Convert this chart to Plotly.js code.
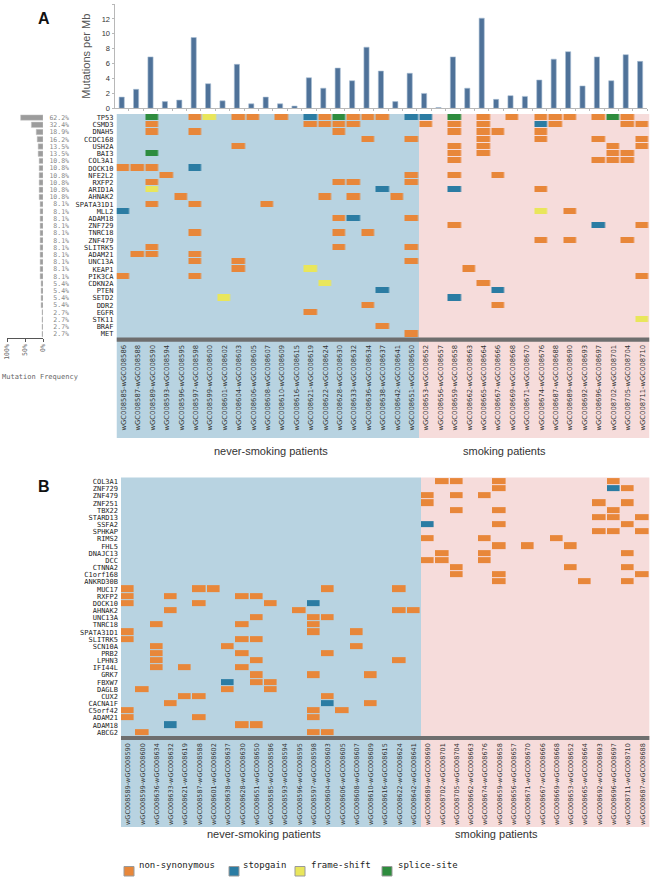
<!DOCTYPE html>
<html><head><meta charset="utf-8">
<script src="https://cdn.plot.ly/plotly-3.0.1.min.js"></script>
<style>html,body{margin:0;padding:0;background:#fff}#chart{width:650px;height:877px}</style>
</head><body><div id="chart"></div>
<script>
// ---------- DATA ----------
const samplesA = ["wGC008585-wGC008586","wGC008587-wGC008588","wGC008589-wGC008590","wGC008593-wGC008594","wGC008596-wGC008595","wGC008597-wGC008598","wGC008599-wGC008600","wGC008601-wGC008602","wGC008604-wGC008603","wGC008606-wGC008605","wGC008608-wGC008607","wGC008610-wGC008609","wGC008616-wGC008615","wGC008621-wGC008619","wGC008622-wGC008624","wGC008628-wGC008630","wGC008633-wGC008632","wGC008636-wGC008634","wGC008638-wGC008637","wGC008642-wGC008641","wGC008651-wGC008650","wGC008653-wGC008652","wGC008656-wGC008657","wGC008659-wGC008658","wGC008662-wGC008663","wGC008665-wGC008664","wGC008667-wGC008666","wGC008669-wGC008668","wGC008671-wGC008670","wGC008674-wGC008676","wGC008687-wGC008688","wGC008689-wGC008690","wGC008692-wGC008693","wGC008696-wGC008697","wGC008702-wGC008701","wGC008705-wGC008704","wGC008711-wGC008710"];
const mutationsPerMb = [1.5,2.55,6.9,0.9,1.1,9.5,3.3,1.0,5.9,0.6,1.5,0.6,0.3,4.1,2.7,5.4,3.7,8.2,5.0,0.9,4.7,2.0,0.1,6.9,2.7,12.1,1.2,1.7,1.6,3.8,6.6,7.6,3.0,6.9,3.7,7.2,6.3];
const genesA = ["TP53","CSMD3","DNAH5","CCDC168","USH2A","BAI3","COL3A1","DOCK10","NFE2L2","RXFP2","ARID1A","AHNAK2","SPATA31D1","MLL2","ADAM18","ZNF729","TNRC18","ZNF479","SLITRK5","ADAM21","UNC13A","KEAP1","PIK3CA","CDKN2A","PTEN","SETD2","DDR2","EGFR","STK11","BRAF","MET"];
const freqA = [62.2,32.4,18.9,16.2,13.5,13.5,10.8,10.8,10.8,10.8,10.8,10.8,8.1,8.1,8.1,8.1,8.1,8.1,8.1,8.1,8.1,8.1,8.1,5.4,5.4,5.4,5.4,2.7,2.7,2.7,2.7];
// sample index + type code (N non-synonymous, S stopgain, F frame-shift, P splice-site)
const mutA = [
 "2P 5N 6F 8N 9N 11N 13S 14N 15P 16N 17N 18N 20S 21S 23P 25N 27N 29N 30N 31N 33N 34P 35N",
 "2N 13N 14N 15N 16N 21N 23N 25N 29S 30N 35N 36N",
 "2N 5N 15N 23N 25N 26N 29N",
 "17N 20N 25N 29N 33N 36N",
 "8N 23N 25N 34N 36N",
 "2P 23N 25N 34N 35N",
 "23N 33N 34N 35N",
 "0N 1N 2N 5S",
 "3N 20N 23N 26N",
 "2N 15N 16N 20N",
 "2F 18S 23S 29N",
 "4N 14N 16N 19N",
 "2N 5N 10N",
 "0S 29F 31N",
 "15N 16S 20N",
 "23N 33S 36N",
 "5N 15N 17N",
 "29N 31N 35N",
 "2N 15N 20N",
 "1N 2N 5N",
 "5N 8N 20N",
 "8N 13F 24N",
 "0N 5N 36N",
 "14F 25N",
 "18S 26S",
 "7F 23S",
 "17N 26N",
 "13N",
 "36F",
 "18N",
 "20N"
];
const samplesB = ["wGC008589-wGC008590","wGC008599-wGC008600","wGC008636-wGC008634","wGC008633-wGC008632","wGC008621-wGC008619","wGC008587-wGC008588","wGC008601-wGC008602","wGC008638-wGC008637","wGC008628-wGC008630","wGC008651-wGC008650","wGC008585-wGC008586","wGC008593-wGC008594","wGC008596-wGC008595","wGC008597-wGC008598","wGC008604-wGC008603","wGC008606-wGC008605","wGC008608-wGC008607","wGC008610-wGC008609","wGC008616-wGC008615","wGC008622-wGC008624","wGC008642-wGC008641","wGC008689-wGC008690","wGC008702-wGC008701","wGC008705-wGC008704","wGC008662-wGC008663","wGC008674-wGC008676","wGC008659-wGC008658","wGC008656-wGC008657","wGC008671-wGC008670","wGC008667-wGC008666","wGC008669-wGC008668","wGC008653-wGC008652","wGC008665-wGC008664","wGC008692-wGC008693","wGC008696-wGC008697","wGC008711-wGC008710","wGC008687-wGC008688"];
const genesB = ["COL3A1","ZNF729","ZNF479","ZNF251","TBX22","STARD13","SSFA2","SPHKAP","RIMS2","FHL5","DNAJC13","DCC","CTNNA2","C1orf168","ANKRD30B","MUC17","RXFP2","DOCK10","AHNAK2","UNC13A","TNRC18","SPATA31D1","SLITRK5","SCN10A","PRB2","LPHN3","IFI44L","GRK7","FBXW7","DAGLB","CUX2","CACNA1F","C5orf42","ADAM21","ADAM18","ABCG2"];
const mutB = [
 "22N 23N 26N 34N",
 "26N 34S 35N",
 "21N 23N 25N",
 "21N 33N 35N",
 "23N 26N 34N",
 "33N 34N 36N",
 "21S 26N 35N",
 "33N 34N 36N",
 "21N 25N 30N",
 "26N 28N 31N",
 "22N 25N 35N",
 "21N 22N 25N",
 "23N 31N 35N",
 "23N 26N 36N",
 "26N 32N 35N",
 "0N 5N 6N 14N 19N",
 "0N 3N 8N 9N",
 "0N 5N 10N 13S",
 "3N 12N 19N 20N",
 "9N 13N 14N",
 "2N 8N 13N",
 "0N 13N 16N",
 "0N 8N 9N",
 "2N 7N 16N",
 "2N 8N 14N",
 "2N 9N 19N",
 "2N 4N 8N",
 "9N 13N 17N",
 "7S 9N 10N",
 "1N 7N 10N",
 "4N 5N 14N",
 "3N 14S 17N",
 "0N 13N 15N",
 "0N 5N 13N",
 "3S 8N 9N",
 "1N 13N 14N"
];
const neverCount = 21;
const groupNames = ["never-smoking patients","smoking patients"];
const typeNames = ["non-synonymous","stopgain","frame-shift","splice-site"];
const typeColors = ["#e8873a","#2b7ca3","#e9e65b","#2e8c3e"];

// ---------- BUILD ----------
const W = 650, H = 877;
const X = p => p / W, Y = p => 1 - p / H;
const codes = {N:1, S:2, F:3, P:4};
function buildZ(genes, muts, n) {
  return genes.map((g, i) => {
    const row = new Array(n).fill(null);
    muts[i].split(" ").filter(Boolean).forEach(t => { row[parseInt(t, 10)] = codes[t.slice(-1)]; });
    return row;
  });
}
const idx = arr => arr.map((_, i) => i);
const cs = [];
typeColors.forEach((c, i) => { cs.push([i / 4, c]); cs.push([(i + 1) / 4, c]); });

const monoF = "DejaVu Sans Mono, monospace";
const sansF = "Liberation Sans, Arial, sans-serif";

const traces = [
  {type:"bar", x: idx(samplesA), y: mutationsPerMb, xaxis:"x", yaxis:"y", width:0.36,
   marker:{color:"#4f7299", line:{color:"#a9bfd5", width:0.6}}, hoverinfo:"skip"},
  {type:"heatmap", z: buildZ(genesA, mutA, samplesA.length), x: idx(samplesA), y: idx(genesA),
   xaxis:"x2", yaxis:"y2", colorscale: cs, zmin:0.5, zmax:4.5, showscale:false, xgap:1.4, ygap:1, hoverinfo:"skip"},
  {type:"bar", orientation:"h", x: freqA, y: idx(genesA), xaxis:"x3", yaxis:"y3", width:0.75,
   marker:{color:"#9c9c9c", line:{color:"#c8c8c8", width:0.5}}, hoverinfo:"skip"},
  {type:"heatmap", z: buildZ(genesB, mutB, samplesB.length), x: idx(samplesB), y: idx(genesB),
   xaxis:"x4", yaxis:"y4", colorscale: cs, zmin:0.5, zmax:4.5, showscale:false, xgap:1.4, ygap:1, hoverinfo:"skip"}
];

const blue = "#b8d3e1", pink = "#f6dcdb", bar = "#6e6e6e";
const nA = samplesA.length, nB = samplesB.length;
const shapes = [
  {type:"rect", xref:"x2", yref:"paper", x0:-0.5, x1:neverCount-0.5, y0:Y(438), y1:Y(114), fillcolor:blue, line:{width:0}, layer:"below"},
  {type:"rect", xref:"x2", yref:"paper", x0:neverCount-0.5, x1:nA-0.5, y0:Y(438), y1:Y(114), fillcolor:pink, line:{width:0}, layer:"below"},
  {type:"rect", xref:"x2", yref:"paper", x0:-0.5, x1:nA-0.5, y0:Y(341.8), y1:Y(337.6), fillcolor:bar, line:{width:0}},
  {type:"rect", xref:"x4", yref:"paper", x0:-0.5, x1:neverCount-0.5, y0:Y(827), y1:Y(477.5), fillcolor:blue, line:{width:0}, layer:"below"},
  {type:"rect", xref:"x4", yref:"paper", x0:neverCount-0.5, x1:nB-0.5, y0:Y(827), y1:Y(477.5), fillcolor:pink, line:{width:0}, layer:"below"},
  {type:"rect", xref:"x4", yref:"paper", x0:-0.5, x1:nB-0.5, y0:Y(740), y1:Y(735.9), fillcolor:bar, line:{width:0}}
];
// legend keys
const legSq = [124, 229, 295, 382];
const legTx = [137, 241, 309, 396];
const annotations = [
  {text:"<b>A</b>", x:X(36), y:Y(8.5), xref:"paper", yref:"paper", showarrow:false, font:{family:sansF, size:16, color:"#111"}},
  {text:"<b>B</b>", x:X(36), y:Y(486), xref:"paper", yref:"paper", showarrow:false, font:{family:sansF, size:16, color:"#111"}},
  {text:"Mutation Frequency", x:X(0), y:Y(377), xanchor:"left", xref:"paper", yref:"paper", showarrow:false, font:{family:monoF, size:7, color:"#666"}},
  {text:groupNames[0], x:X(271), y:Y(451), xref:"paper", yref:"paper", showarrow:false, font:{family:sansF, size:11, color:"#333"}},
  {text:groupNames[1], x:X(548), y:Y(451), xref:"paper", yref:"paper", showarrow:false, font:{family:sansF, size:11, color:"#333"}},
  {text:groupNames[0], x:X(264), y:Y(842), xref:"paper", yref:"paper", showarrow:false, font:{family:sansF, size:11, color:"#333"}},
  {text:groupNames[1], x:X(540), y:Y(842), xref:"paper", yref:"paper", showarrow:false, font:{family:sansF, size:11, color:"#333"}}
];
typeNames.forEach((t, i) => {
  shapes.push({type:"rect", xref:"paper", yref:"paper", x0:X(legSq[i]), x1:X(legSq[i]+10), y0:Y(876), y1:Y(866.5), fillcolor:typeColors[i], line:{color:"#9a9a9a", width:1}});
  annotations.push({text:t, x:X(legTx[i]), y:Y(871.5), xanchor:"left", xref:"paper", yref:"paper", showarrow:false, font:{family:monoF, size:9, color:"#222"}});
});

const hid = {showgrid:false, zeroline:false, fixedrange:true};
const layout = {
  width:W, height:H, margin:{l:0, r:0, t:0, b:0}, showlegend:false,
  paper_bgcolor:"#fff", plot_bgcolor:"rgba(0,0,0,0)",
  xaxis: Object.assign({}, hid, {domain:[X(114.5), X(647.3)], range:[-0.5, nA-0.5], anchor:"y",
    showline:true, linecolor:"#b8b8b8", linewidth:1, ticks:"outside", ticklen:2, tickcolor:"#b8b8b8",
    tickvals: idx(samplesA).map(i => i + 0.5), showticklabels:false}),
  yaxis: Object.assign({}, hid, {domain:[Y(108.3), Y(4)], range:[0, 14], dtick:2, tick0:0, anchor:"x",
    showline:true, linecolor:"#b8b8b8", linewidth:1, ticks:"outside", ticklen:2, tickcolor:"#b8b8b8",
    tickfont:{family:sansF, size:7.5, color:"#333"},
    title:{text:"Mutations per Mb", font:{family:sansF, size:11, color:"#555"}, standoff:8}}),
  xaxis2: Object.assign({}, hid, {domain:[X(116.5), X(649.5)], range:[-0.5, nA-0.5], anchor:"y2",
    showline:false, ticks:"", tickvals: idx(samplesA), ticktext: samplesA, tickangle:-90,
    tickfont:{family:"DejaVu Sans, sans-serif", size:6.8, color:"#333"}, ticklabelstandoff:5}),
  yaxis2: Object.assign({}, hid, {domain:[Y(337.6), Y(114)], range:[genesA.length-0.5, -0.5], anchor:"x2",
    showline:false, ticks:"", tickvals: idx(genesA), ticktext: genesA,
    tickfont:{family:monoF, size:7, color:"#222"}, ticklabelstandoff:2}),
  xaxis3: Object.assign({}, hid, {domain:[X(7), X(43)], range:[100, 0], anchor:"y3",
    showline:true, linecolor:"#555", linewidth:1, ticks:"outside", ticklen:3, tickcolor:"#555",
    tickvals:[100, 50, 0], ticktext:["100%", "50%", "0%"], tickangle:-90,
    tickfont:{family:monoF, size:6.5, color:"#666"}}),
  yaxis3: Object.assign({}, hid, {domain:[Y(337.6), Y(114)], range:[genesA.length-0.5, -0.5], anchor:"free", position:X(69),
    side:"left", showline:false, ticks:"", tickvals: idx(genesA), ticktext: freqA.map(v => v.toFixed(1) + "%"),
    tickfont:{family:monoF, size:6.5, color:"#888"}, ticklabelstandoff:0}),
  xaxis4: Object.assign({}, hid, {domain:[X(121), X(649.6)], range:[-0.5, nB-0.5], anchor:"y4",
    showline:false, ticks:"", tickvals: idx(samplesB), ticktext: samplesB, tickangle:-90,
    tickfont:{family:"DejaVu Sans, sans-serif", size:6.5, color:"#333"}, ticklabelstandoff:5}),
  yaxis4: Object.assign({}, hid, {domain:[Y(735.9), Y(478.1)], range:[genesB.length-0.5, -0.5], anchor:"x4",
    showline:false, ticks:"", tickvals: idx(genesB), ticktext: genesB,
    tickfont:{family:monoF, size:7, color:"#222"}, ticklabelstandoff:2}),
  shapes: shapes, annotations: annotations
};
Plotly.newPlot("chart", traces, layout, {staticPlot:true, displayModeBar:false});
</script></body></html>
